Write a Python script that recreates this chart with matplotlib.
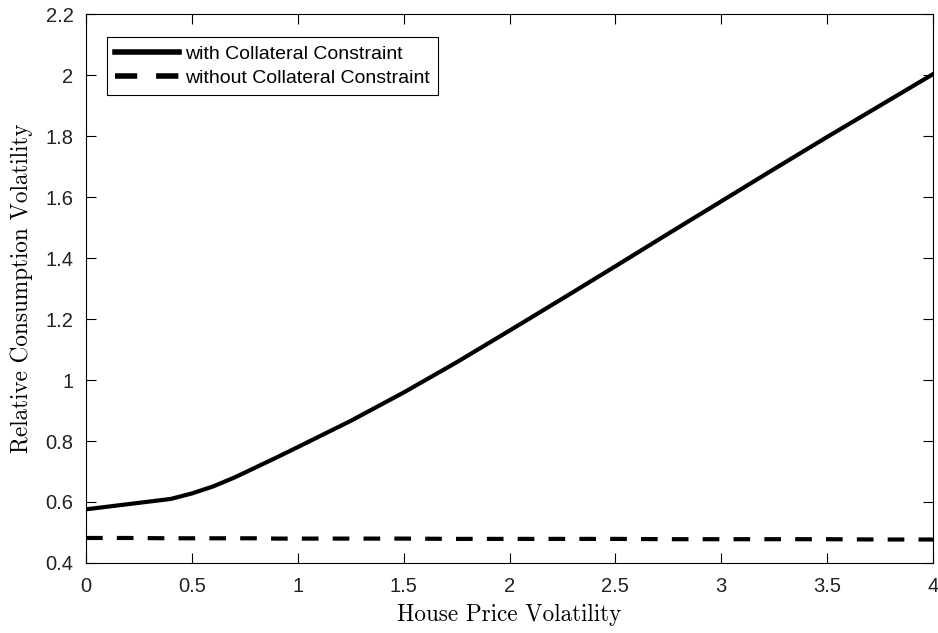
import matplotlib.pyplot as plt

# House price volatility grid and relative consumption volatility
vol_h = [0.0, 0.2, 0.4, 0.5, 0.6, 0.7, 0.8, 0.9, 1.0, 1.25, 1.5, 1.75, 2.0, 2.25, 2.5, 2.75, 3.0, 3.25, 3.5, 3.75, 4.0]
with_cc = [0.576, 0.593, 0.610, 0.628, 0.651, 0.680, 0.713, 0.746, 0.780, 0.866, 0.959, 1.058, 1.162, 1.267, 1.373,
           1.480, 1.586, 1.692, 1.797, 1.900, 2.003]
without_cc = [0.482, 0.482, 0.481, 0.481, 0.481, 0.481, 0.481, 0.480, 0.480, 0.480, 0.480, 0.479, 0.479, 0.479, 0.479,
              0.478, 0.478, 0.478, 0.478, 0.477, 0.477]

xticks = [0, 0.5, 1, 1.5, 2, 2.5, 3, 3.5, 4]
yticks = [0.4, 0.6, 0.8, 1, 1.2, 1.4, 1.6, 1.8, 2, 2.2]

fig = plt.figure(figsize=(9.38, 6.33), dpi=100)
ax = fig.add_axes([0.0917, 0.1106, 0.9030, 0.8672])

ax.plot(vol_h, with_cc, color="black", lw=3, label="with Collateral Constraint")
ax.plot(vol_h, without_cc, color="black", lw=3, ls=(0, (4.0, 3.4)), label="without Collateral Constraint")

ax.set_xlim(0, 4)
ax.set_ylim(0.4, 2.2)
ax.set_xticks(xticks)
ax.set_xticklabels([f"{t:g}" for t in xticks])
ax.set_yticks(yticks)
ax.set_yticklabels([f"{t:g}" for t in yticks])
ax.tick_params(direction="in", top=True, right=True, length=7, labelsize=14.5, width=0.8,
               labelcolor="#222222")
ax.tick_params(axis="x", pad=10)
ax.tick_params(axis="y", pad=9)
for lab in ax.get_xticklabels() + ax.get_yticklabels():
    lab.set_family("Liberation Sans")

ax.set_xlabel("House Price Volatility", family="cmr10", fontsize=16.7)
ax.set_ylabel("Relative Consumption Volatility", family="cmr10", fontsize=16.7)
ax.xaxis.set_label_coords(0.5, -0.075)
ax.yaxis.set_label_coords(-0.062, 0.5)

leg = ax.legend(loc="upper left", bbox_to_anchor=(0.0248, 0.958), fancybox=False, edgecolor="black",
                prop={"family": "Liberation Sans", "size": 14}, handlelength=3.3, handletextpad=0.3,
                borderpad=0.42, borderaxespad=0, labelspacing=0.35, framealpha=1)
leg.get_frame().set_linewidth(0.8)
for line in leg.get_lines():
    line.set_linewidth(4)

fig.savefig("out.png", dpi=100)
